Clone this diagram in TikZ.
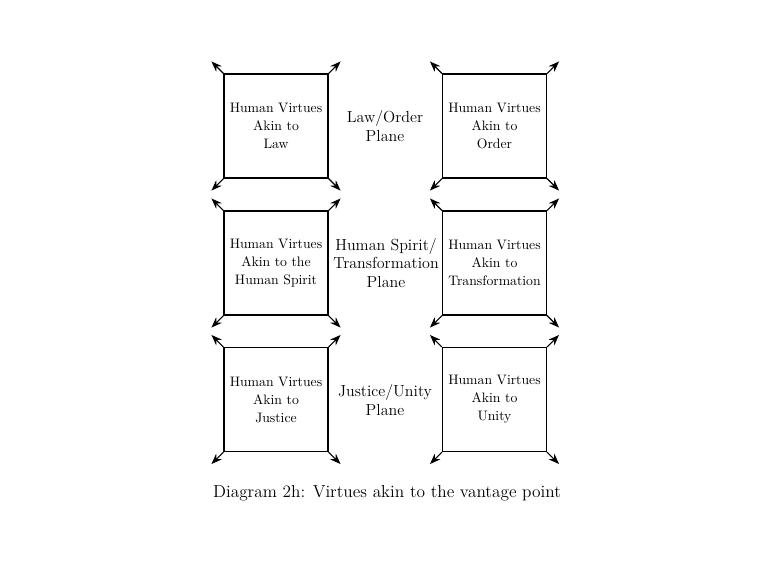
\documentclass[tikz,border=0pt]{standalone}
\usepackage{tikz}
\usetikzlibrary{arrows.meta}
\usetikzlibrary{positioning}
\tikzset{virtue/.style = {draw, thick, minimum size = 78pt, inner sep = 0,
                          align = center, font = \fontsize{10.3}{13.5}\selectfont}}
\tikzset{plane/.style = {align = center, font = \large}}
\tikzset{corner/.style = {-{Stealth[length = 8pt, width = 6pt]}, thick}}

\begin{document}
\begin{tikzpicture}[x = 0.75pt, y = -0.75pt]
    \useasboundingbox (0, 0) rectangle (768, 576);
    \node [virtue] (law) at (276, 126) {Human Virtues\\Akin to\\Law};
    \node [virtue] (order) at (494.5, 126) {Human Virtues\\Akin to\\Order};
    \node [virtue] (spirit) at (276, 263) {Human Virtues\\Akin to the\\Human Spirit};
    \node [virtue] (transf) at (494.5, 263) {Human Virtues\\Akin to\\Transformation};
    \node [virtue] (justice) at (276, 399.5) {Human Virtues\\Akin to\\Justice};
    \node [virtue] (unity) at (494.5, 399.5) {Human Virtues\\Akin to\\Unity};

    \node [plane] (lawplane) at (385, 126) {Law/Order\\Plane};
    \node [plane] (spiritplane) at (386, 263) {Human Spirit/\\Transformation\\Plane};
    \node [plane] (justiceplane) at (385, 400) {Justice/Unity\\Plane};

    \foreach \b in {law, order, spirit, transf, justice, unity} {
      \draw [corner] (\b.north west) -- ++(-12, -12);
      \draw [corner] (\b.north east) -- ++(12, -12);
      \draw [corner] (\b.south west) -- ++(-12, 12);
      \draw [corner] (\b.south east) -- ++(12, 12);
    }

    \node [font = \fontsize{13}{16}\selectfont] (caption) at (387, 493) {Diagram 2h: Virtues akin to the vantage point};
  \end{tikzpicture}
\end{document}
